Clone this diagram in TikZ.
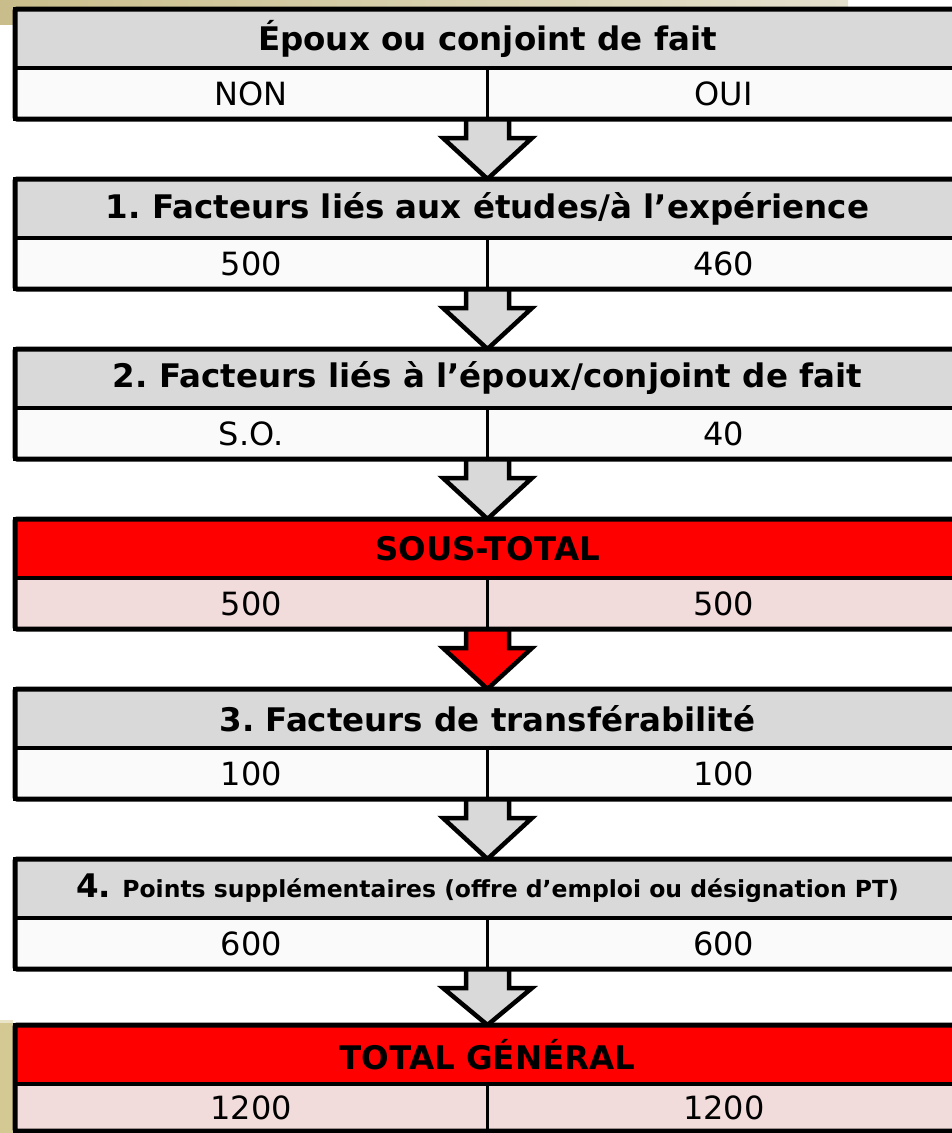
\documentclass[tikz,border=0pt]{standalone}
\usepackage{fontspec}
\setmainfont{DejaVu Sans}
\usetikzlibrary{calc,backgrounds}
\frenchspacing
\definecolor{hdgray}{HTML}{D9D9D9}
\definecolor{rowwhite}{HTML}{FAFAFA}
\definecolor{pinkrow}{HTML}{F2DCDB}
\definecolor{tanA}{HTML}{C9BE8B}
\definecolor{tanB}{HTML}{E4E0CE}
\definecolor{tanC}{HTML}{D4C992}
\definecolor{tanD}{HTML}{EAE5C8}
\newcommand\flowbox[8]{%
  \node[hdr, fill=#3] (h#1) at (15,#2) {#5};
  \node[cell, fill=#4, minimum height=#8pt] (l#1) at (h#1.south west) {#6};
  \node[cell, fill=#4, minimum height=#8pt] (r#1) at (l#1.north east) {#7};
  \draw[frame] (h#1.north west) rectangle (r#1.south east);
}
\newcommand\flowarrow[3]{%
  \filldraw[arr, fill=#3] ($(l#1.south east)+(-21.5,0)$) -- ++(0,19) -- ++(-23,0)
    -- (h#2.north) -- ($(l#1.south east)+(44.5,19)$) -- ++(-23,0) -- ++(0,-19);
}
\begin{document}
\begin{tikzpicture}[x=1pt,y=-1pt,
  hdr/.style={draw=black, line width=4.5pt, minimum width=945pt, minimum height=59pt,
    anchor=north west, inner sep=0pt, outer sep=0pt,
    font=\bfseries\fontsize{32.5}{32.5}\selectfont},
  cell/.style={draw=black, line width=3.5pt, minimum width=472.5pt,
    anchor=north west, inner sep=0pt, outer sep=0pt,
    font=\fontsize{32}{32}\selectfont},
  frame/.style={draw=black, line width=5pt, rounded corners=2pt},
  arr/.style={draw=black, line width=4.5pt, line join=miter}]
\useasboundingbox (0,0) rectangle (951,1133);
\flowbox{1}{9}{hdgray}{rowwhite}{Époux ou conjoint de fait}{NON}{OUI}{51}
\flowbox{2}{179}{hdgray}{rowwhite}{1. Facteurs liés aux études/à l’expérience}{500}{460}{51}
\flowbox{3}{349}{hdgray}{rowwhite}{2. Facteurs liés à l’époux/conjoint de fait}{S.O.}{40}{51}
\flowbox{4}{519}{red}{pinkrow}{SOUS-TOTAL}{500}{500}{51}
\flowbox{5}{689}{hdgray}{rowwhite}{3. Facteurs de transférabilité}{100}{100}{51}
\flowbox{6}{859}{hdgray}{rowwhite}{4. {\fontsize{23.5}{23.5}\selectfont Points supplémentaires (offre d’emploi ou désignation PT)}}{600}{600}{51}
\flowbox{7}{1025}{red}{pinkrow}{TOTAL GÉNÉRAL}{1200}{1200}{47}
\begin{scope}[on background layer]
  \fill[left color=tanA, right color=tanB] (0,0) rectangle (848,8);
  \fill[tanA] (0,0) rectangle (13,25);
  \fill[tanC] (0,1020) rectangle (13,1133);
  \fill[tanD] (0,1020) rectangle (13,1023);
  \flowarrow{1}{2}{hdgray}
  \flowarrow{2}{3}{hdgray}
  \flowarrow{3}{4}{hdgray}
  \flowarrow{4}{5}{red}
  \flowarrow{5}{6}{hdgray}
  \flowarrow{6}{7}{hdgray}
\end{scope}
\end{tikzpicture}
\end{document}
